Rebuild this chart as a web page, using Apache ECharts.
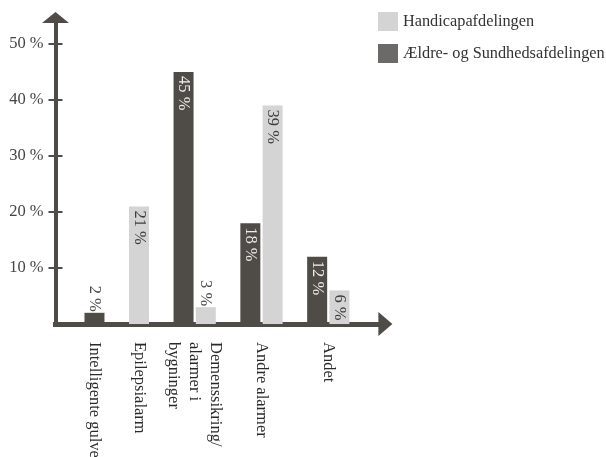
<!DOCTYPE html>
<html>
<head>
<meta charset="utf-8">
<title>Alarmer fordelt på afdelinger</title>
<script src="https://cdn.jsdelivr.net/npm/echarts@6/dist/echarts.min.js"></script>
<style>
  html, body { margin: 0; padding: 0; background: #ffffff; }
  #chart { width: 606px; height: 457px; }
</style>
</head>
<body>
<div id="chart"></div>
<script>
// ---- data ----
const categories = ['Intelligente gulve', 'Epilepsialarm', 'Demenssikring/\nalarmer i\nbygninger', 'Andre alarmer', 'Andet'];
const seriesNames = ['Handicapafdelingen', 'Ældre- og Sundhedsafdelingen'];
const handicapValues = [null, 21, 3, 39, 6];
const aeldreValues = [2, null, 45, 18, 12];
const yTickValues = [10, 20, 30, 40, 50];

// ---- layout: the x axis is split into narrow slots; every group puts its
// dark bar, light bar and name on given slots ----
const SLOT_COUNT = 29;
const groupSlots = [
  { dark: 3, light: null, name: 3 },
  { dark: null, light: 7, name: 7 },
  { dark: 11, light: 13, name: 12 },
  { dark: 17, light: 19, name: 18 },
  { dark: 23, light: 25, name: 24 }
];

const FONT = "'Liberation Serif', 'Times New Roman', serif";
const DARK = '#4f4b46';
const LIGHT = '#d4d4d4';

const slotIds = [];
const slotNames = [];
for (let i = 0; i < SLOT_COUNT; i++) { slotIds.push('s' + i); slotNames.push(''); }
const darkData = new Array(SLOT_COUNT).fill(null);
const lightData = new Array(SLOT_COUNT).fill(null);

// small values get their label above the bar, the rest inside from the top
function barItem(v, insideColor) {
  const outside = v < 5;
  return {
    value: v,
    label: outside
      ? { position: 'top', distance: 1, align: 'right', verticalAlign: 'middle', color: '#4a4a4a' }
      : { position: 'insideTop', distance: 4, align: 'left', verticalAlign: 'middle', color: insideColor }
  };
}

groupSlots.forEach((g, i) => {
  slotNames[g.name] = categories[i];
  if (g.dark != null && aeldreValues[i] != null) darkData[g.dark] = barItem(aeldreValues[i], '#ececec');
  if (g.light != null && handicapValues[i] != null) lightData[g.light] = barItem(handicapValues[i], '#3c3c3c');
});

const barLabel = {
  show: true,
  rotate: -90,
  formatter: '{c} %',
  fontFamily: FONT,
  fontSize: 16.5
};

const chart = echarts.init(document.getElementById('chart'), null, { renderer: 'canvas' });

chart.setOption({
  animation: false,
  backgroundColor: '#ffffff',
  grid: { left: 55.5, right: 227.6, top: 21.6, bottom: 133, containLabel: false, outerBoundsMode: 'none' },
  legend: {
    orient: 'vertical',
    left: 373,
    top: 7,
    icon: 'rect',
    itemWidth: 20,
    itemHeight: 19,
    itemGap: 13,
    selectedMode: false,
    textStyle: { fontFamily: FONT, fontSize: 16.3, color: '#333333' },
    data: [
      { name: seriesNames[0], itemStyle: { color: LIGHT } },
      { name: seriesNames[1], itemStyle: { color: '#6b6a69' } }
    ]
  },
  xAxis: {
    type: 'category',
    data: slotIds,
    boundaryGap: true,
    offset: 2,
    axisLine: {
      show: true,
      symbol: ['none', 'triangle'],
      symbolSize: [24, 14],
      symbolOffset: [0, 7],
      lineStyle: { color: DARK, width: 5, cap: 'square' }
    },
    axisTick: { show: false },
    splitLine: { show: false },
    axisLabel: {
      interval: 0,
      rotate: -90,
      margin: 16,
      hideOverlap: false,
      fontFamily: FONT,
      fontSize: 16.5,
      lineHeight: 21,
      color: '#2a2a2a',
      formatter: (v, idx) => slotNames[idx]
    }
  },
  yAxis: [
    {
      type: 'value',
      min: 0,
      max: 54,
      interval: 10,
      axisLine: {
        show: true,
        symbol: ['none', 'triangle'],
        symbolSize: [27, 11],
        symbolOffset: [0, 4],
        lineStyle: { color: DARK, width: 4, cap: 'square' }
      },
      axisTick: { show: false },
      splitLine: { show: false },
      axisLabel: {
        customValues: yTickValues,
        margin: 12,
        fontFamily: FONT,
        fontSize: 16.5,
        color: '#444444',
        formatter: v => v + ' %'
      }
    },
    {
      // cross-shaped tick marks on the vertical axis
      type: 'value',
      min: 0,
      max: 54,
      interval: 10,
      position: 'left',
      offset: -7,
      axisLine: { show: false },
      axisTick: { show: true, customValues: yTickValues, length: 14, lineStyle: { color: DARK, width: 2 } },
      axisLabel: { show: false },
      splitLine: { show: false }
    }
  ],
  series: [
    {
      name: seriesNames[0],
      type: 'bar',
      data: lightData,
      barWidth: 20,
      barGap: '-100%',
      itemStyle: { color: LIGHT },
      label: barLabel
    },
    {
      name: seriesNames[1],
      type: 'bar',
      data: darkData,
      barWidth: 20,
      barGap: '-100%',
      itemStyle: { color: DARK },
      label: barLabel
    }
  ]
});
</script>
</body>
</html>
